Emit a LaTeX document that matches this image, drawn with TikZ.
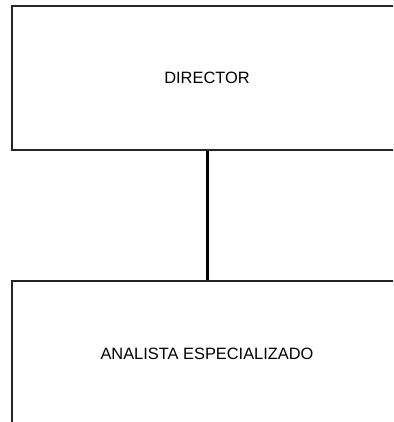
\documentclass[tikz,border=0pt]{standalone}
\usepackage{fontspec}
\setmainfont{Liberation Sans}
\begin{document}
\begin{tikzpicture}[x=1pt,y=1pt,
  orgbox/.style={draw=black!85, line width=1.1pt, fill=white, minimum width=390pt, inner sep=0pt, font=\fontsize{16.4}{19}\selectfont},
  link/.style={line width=3pt, draw=black}]
\useasboundingbox (0,0) rectangle (393,-422);
\clip (0,0) rectangle (393,-422);
\node[orgbox, minimum height=144pt] (dir) at (207,-78) {DIRECTOR};
\node[orgbox, minimum height=146pt] (ana) at (207,-354) {ANALISTA ESPECIALIZADO};
\draw[link] (dir.south) -- (ana.north);
\end{tikzpicture}
\end{document}
